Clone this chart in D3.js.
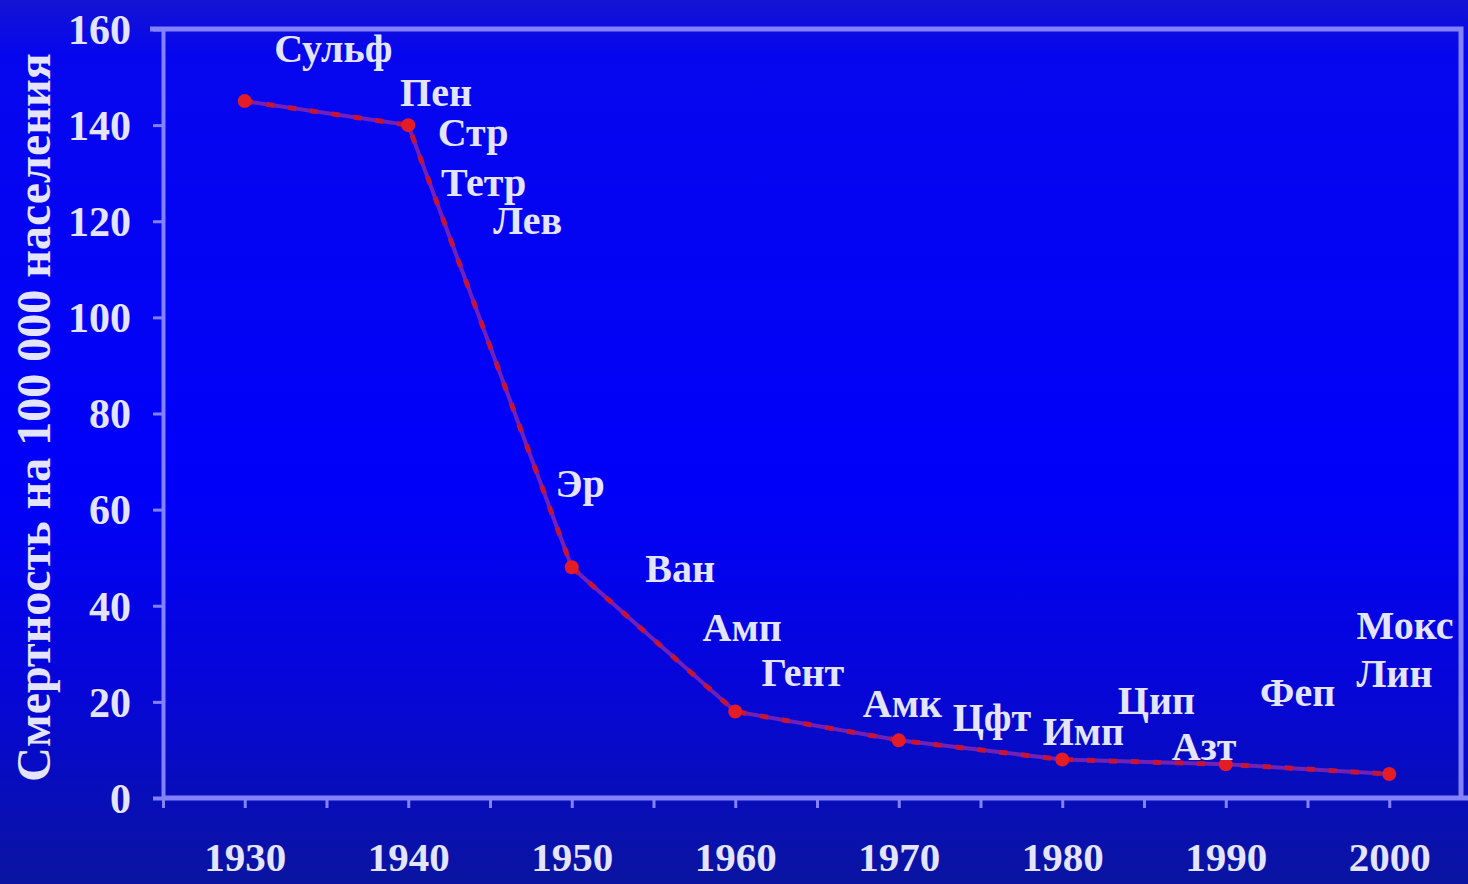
<!DOCTYPE html>
<html>
<head>
<meta charset="utf-8">
<script src="https://cdn.jsdelivr.net/npm/d3@7"></script>
<style>
  html, body { margin: 0; padding: 0; overflow: hidden; background: #0000f0; }
  svg { display: block; }
</style>
</head>
<body>
<svg id="chart" width="1468" height="884"></svg>
<script>
// Mortality per 100 000 population by decade
const years = [1930, 1940, 1950, 1960, 1970, 1980, 1990, 2000];
const mortality = [145, 140, 48, 18, 12, 8, 7, 5];

// Antibiotic abbreviations placed near the period of their introduction
const drugNames  = ["Сульф", "Пен", "Стр", "Тетр", "Лев", "Эр", "Ван", "Амп", "Гент",
                    "Амк", "Цфт", "Имп", "Цип", "Азт", "Феп", "Мокс", "Лин"];
const drugYears  = [1931.8, 1939.5, 1941.8, 1942.0, 1945.2, 1949.0, 1954.5, 1958.0, 1961.6,
                    1967.8, 1973.3, 1978.8, 1983.4, 1986.7, 1992.1, 1998.0, 1998.0];
const drugLevels = [153.1, 144.0, 135.7, 125.3, 117.4, 62.6, 44.9, 32.7, 23.3,
                    16.9, 13.9, 11.0, 17.5, 7.9, 19.1, 33.1, 23.1];

const yTickValues = [0, 20, 40, 60, 80, 100, 120, 140, 160];
const xTickValues = d3.range(1925, 2006, 5);
const xTickLabels = ["1930", "1940", "1950", "1960", "1970", "1980", "1990", "2000"];
const yTitle = "Смертность на 100 000 населения";

const W = 1468, H = 884;
const FONT = "'Liberation Serif', 'Times New Roman', serif";
const TEXT = "#e4e4ff";
const AXIS = "#8282ff";

const svg = d3.select("#chart");

// Background gradient
const defs = svg.append("defs");
const grad = defs.append("linearGradient")
  .attr("id", "bg").attr("x1", 0).attr("y1", 0).attr("x2", 0).attr("y2", 1);
[[0, "#1414d2"], [0.06, "#0606ee"], [0.55, "#0000fa"], [0.78, "#0606d8"], [1, "#0a14a0"]]
  .forEach(([o, c]) => grad.append("stop").attr("offset", o).attr("stop-color", c));
svg.append("rect").attr("width", W).attr("height", H).attr("fill", "url(#bg)");

const x = d3.scaleLinear().domain([1925, 2005]).range([163, 1471]);
const y = d3.scaleLinear().domain([0, 160]).range([798, 29]);
const frameRight = 1461;

// Plot frame: top and right edges
svg.append("path")
  .attr("d", `M150,${y(160)}H${frameRight}V${y(0)}`)
  .attr("fill", "none").attr("stroke", AXIS).attr("stroke-width", 5);

// Y axis
const yAxis = svg.append("g")
  .attr("transform", `translate(${x(1925)},0)`)
  .call(d3.axisLeft(y).tickValues(yTickValues).tickSize(10).tickPadding(22));
yAxis.select(".domain").attr("stroke", AXIS).attr("stroke-width", 4);
yAxis.selectAll(".tick line").attr("stroke", AXIS).attr("stroke-width", 3);
yAxis.selectAll(".tick text")
  .attr("fill", TEXT).attr("font-family", FONT).attr("font-weight", "bold")
  .attr("font-size", 42).attr("dy", "0.34em");

// X axis
const xAxis = svg.append("g")
  .attr("transform", `translate(0,${y(0)})`)
  .call(d3.axisBottom(x).tickValues(xTickValues).tickSize(10)
    .tickFormat(d => xTickLabels.includes(String(d)) ? String(d) : ""));
xAxis.select(".domain").attr("stroke", AXIS).attr("stroke-width", 5)
  .attr("d", `M${x(1925)},0H${W}`);
xAxis.selectAll(".tick line").attr("stroke", AXIS).attr("stroke-width", 3);
xAxis.selectAll(".tick text")
  .attr("fill", TEXT).attr("font-family", FONT).attr("font-weight", "bold")
  .attr("font-size", 41).attr("y", 73).attr("dy", 0);

// Y axis title
svg.append("text")
  .attr("transform", `translate(50,${(y(0) + y(160)) / 2 + 4}) rotate(-90)`)
  .attr("text-anchor", "middle")
  .attr("fill", TEXT).attr("font-family", FONT).attr("font-weight", "bold")
  .attr("font-size", 48)
  .text(yTitle);

// Mortality line: purple base with red dashes on top
const pts = years.map((yr, i) => [x(yr), y(mortality[i])]);
const line = d3.line();
svg.append("path").attr("d", line(pts))
  .attr("fill", "none").attr("stroke", "#7e24b0").attr("stroke-width", 4)
  .attr("stroke-opacity", 0.9);
svg.append("path").attr("d", line(pts))
  .attr("fill", "none").attr("stroke", "#c81432").attr("stroke-width", 5)
  .attr("stroke-dasharray", "8,14");

svg.selectAll("circle.pt").data(pts).join("circle")
  .attr("class", "pt")
  .attr("cx", d => d[0]).attr("cy", d => d[1]).attr("r", 7)
  .attr("fill", "#e41c26");

// Antibiotic labels
svg.selectAll("text.drug").data(drugNames).join("text")
  .attr("class", "drug")
  .attr("x", (d, i) => x(drugYears[i]))
  .attr("y", (d, i) => y(drugLevels[i]))
  .attr("fill", TEXT).attr("font-family", FONT).attr("font-weight", "bold")
  .attr("font-size", 40)
  .text(d => d);
</script>
</body>
</html>
